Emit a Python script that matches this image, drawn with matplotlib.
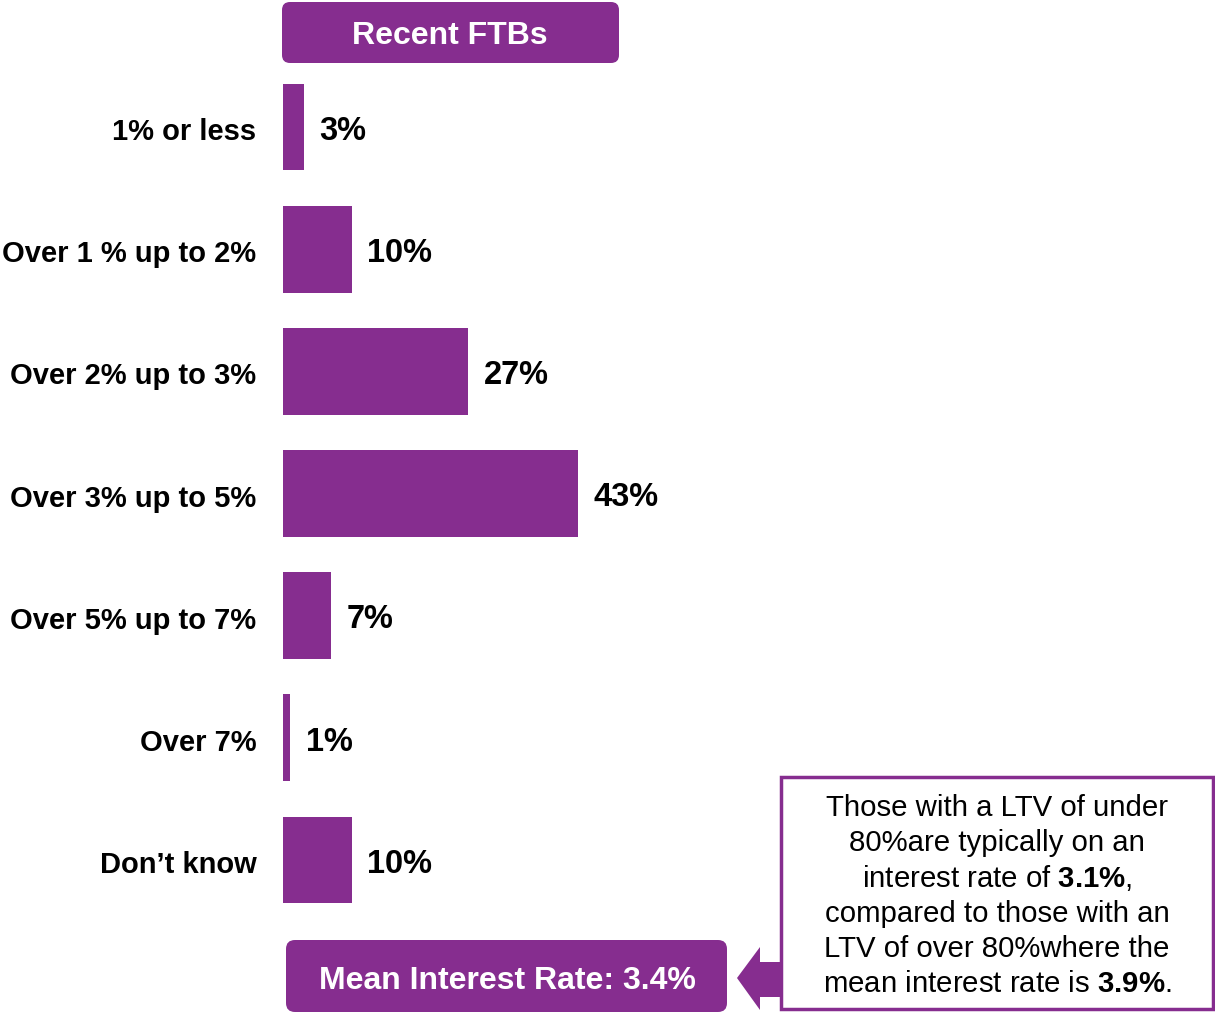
import matplotlib
matplotlib.use("Agg")
import matplotlib.pyplot as plt
import matplotlib.transforms as mtrans
from matplotlib.patches import FancyBboxPatch, Polygon, Rectangle

plt.rcParams["font.family"] = ["Liberation Sans", "DejaVu Sans"]
plt.rcParams["mathtext.fontset"] = "custom"
plt.rcParams["mathtext.rm"] = "Liberation Sans"
plt.rcParams["mathtext.bf"] = "Liberation Sans:bold"

# data
categories = ["1% or less", "Over 1 % up to 2%", "Over 2% up to 3%", "Over 3% up to 5%",
              "Over 5% up to 7%", "Over 7%", "Don\u2019t know"]
shares = [3, 10, 27, 43, 7, 1, 10]
header = "Recent FTBs"
mean_label = "Mean Interest Rate: 3.4%"
note_lines = ["Those with a LTV of under",
              "80%are typically on an",
              r"interest rate of $\mathbf{3.1\%}$,",
              "compared to those with an",
              "LTV of over 80%where the",
              r"mean interest rate is $\mathbf{3.9\%}$."]

purple = "#862D8F"
W, H = 1215, 1013

fig = plt.figure(figsize=(W / 100, H / 100), dpi=100)

# bar axes, placed in pixel terms
left, right = 283, 283 + 75 * 6.86
top, bottom = 66, 921
ax = fig.add_axes([left / W, 1 - bottom / H, (right - left) / W, (bottom - top) / H])
y = list(range(len(categories)))
ax.barh(y, shares, height=0.71, color=purple)
ax.set_xlim(0, 75)
ax.set_ylim(len(categories) - 0.5, -0.5)
ax.set_yticks(y)
ax.set_yticklabels(categories, fontsize=21, fontweight="bold")
ax.tick_params(axis="y", length=0, pad=19)
shift = mtrans.ScaledTranslation(0, -2 / 100, fig.dpi_scale_trans)
for lab in ax.get_yticklabels():
    lab.set_transform(lab.get_transform() + shift)
ax.set_xticks([])
for s in ax.spines.values():
    s.set_visible(False)
for yi, v in zip(y, shares):
    ax.text(v + 2.3, yi + 0.035, f"{v}%", va="center", ha="left",
            fontsize=23.5, fontweight="bold")

# overlay in pixel coordinates
ov = fig.add_axes([0, 0, 1, 1])
ov.set_xlim(0, W)
ov.set_ylim(H, 0)
ov.axis("off")

ov.add_patch(FancyBboxPatch((282 + 8, 2 + 8), 337 - 16, 61 - 16,
                            boxstyle="round,pad=8", fc=purple, ec="none"))
ov.text(450, 36, header, color="white", fontsize=23, fontweight="bold",
        ha="center", va="center")

ov.add_patch(FancyBboxPatch((286 + 9, 940 + 9), 441 - 18, 72 - 18,
                            boxstyle="round,pad=9", fc=purple, ec="none"))
ov.text(507, 981, mean_label, color="white", fontsize=23, fontweight="bold",
        ha="center", va="center")

ov.add_patch(Polygon([(737, 978), (760, 947), (760, 962), (781, 962),
                      (781, 997), (760, 997), (760, 1010)], closed=True,
                     fc=purple, ec="none"))

ov.add_patch(Rectangle((781, 777), 432, 232, fc="white", ec=purple, lw=2.5))
for i, line in enumerate(note_lines):
    ov.text(997, 808 + i * 35.2, line, fontsize=21.2, ha="center", va="center")

fig.savefig("out.png", dpi=100)
